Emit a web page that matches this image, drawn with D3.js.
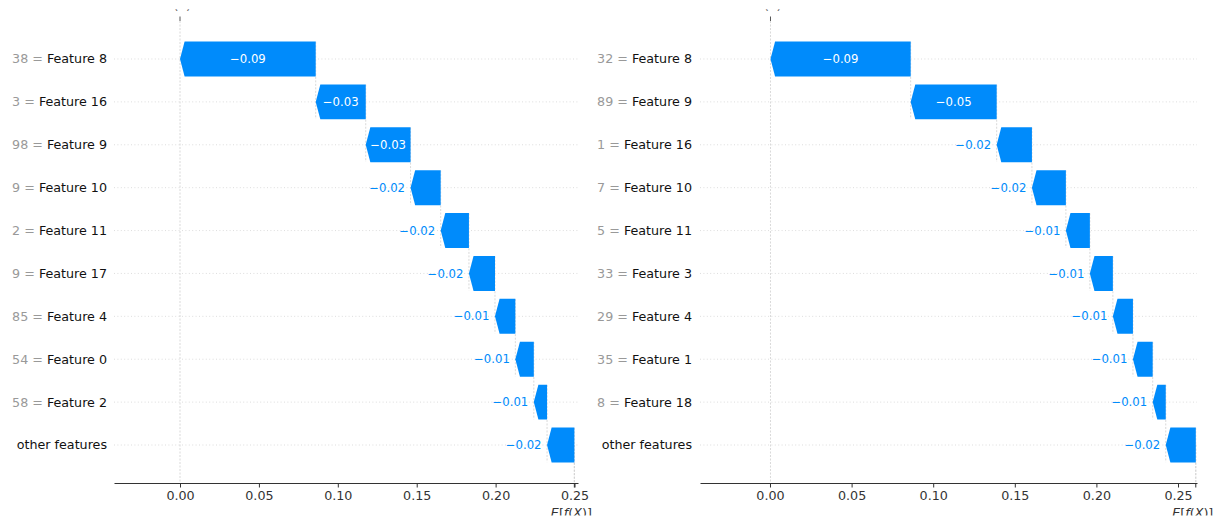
<!DOCTYPE html>
<html>
<head>
<meta charset="utf-8">
<script src="https://cdn.jsdelivr.net/npm/d3@7"></script>
<style>
  html, body { margin: 0; padding: 0; background: #fff; }
  svg { display: block; font-family: "DejaVu Sans", sans-serif; }
</style>
</head>
<body>
<svg id="chart" width="1220" height="523"></svg>
<script>
// ---- data: two SHAP waterfall explanations (rows listed top to bottom) ----
const leftFeatures = ["Feature 8", "Feature 16", "Feature 9", "Feature 10", "Feature 11",
                      "Feature 17", "Feature 4", "Feature 0", "Feature 2", "other features"];
const leftFeatureValues = ["38", "3", "98", "9", "2", "9", "85", "54", "58", null];
const leftShap = [-0.0860, -0.0317, -0.0284, -0.0191, -0.0179, -0.0165, -0.0129, -0.0117, -0.0084, -0.0173];
const leftBase = 0.2499;

const rightFeatures = ["Feature 8", "Feature 9", "Feature 16", "Feature 10", "Feature 11",
                       "Feature 3", "Feature 4", "Feature 1", "Feature 18", "other features"];
const rightFeatureValues = ["32", "89", "1", "7", "5", "33", "29", "35", "8", null];
const rightShap = [-0.0859, -0.0527, -0.0216, -0.0208, -0.0147, -0.0141, -0.0123, -0.0121, -0.0080, -0.0184];
const rightBase = 0.2609;

const xTicks = [0.00, 0.05, 0.10, 0.15, 0.20, 0.25];

// ---- styling ----
const BLUE = "#008bfb";
const FONT = "DejaVu Sans";
const LABEL_SIZE = 12.7;
const VALUE_SIZE = 11.7;
const AXIS_Y = 483;
const AXIS_TOP = 21;
const HEAD = 4.6;

const svg = d3.select("#chart");
const minus = s => s.replace("-", "\u2212");
const fmt = d3.format(".2f");

// top clip keeps only the lower edge of the f(x) caption, bottom clip trims E[f(X)]
const defs = svg.append("defs");
defs.append("clipPath").attr("id", "clipTop")
  .append("rect").attr("x", 0).attr("y", 9.3).attr("width", 1220).attr("height", 30);
defs.append("clipPath").attr("id", "clipBottom")
  .append("rect").attr("x", 0).attr("y", 490).attr("width", 1220).attr("height", 25.5);

function drawPanel(cfg) {
  const { features, featureValues, shap, base, range, domain, labelRight } = cfg;
  const n = features.length;
  const fx = base + d3.sum(shap);

  const x = d3.scaleLinear().domain(domain).range(range);
  const y = d3.scaleLinear().domain([-0.886, n - 1 + 0.886]).range([AXIS_TOP, AXIS_Y]);
  const rowH = y(1) - y(0);
  const barH = rowH * 0.815;

  const g = svg.append("g");

  // dotted row guides
  g.selectAll("line.row").data(features).join("line")
    .attr("class", "row")
    .attr("x1", range[0]).attr("x2", range[1])
    .attr("y1", (d, i) => y(i)).attr("y2", (d, i) => y(i))
    .attr("stroke", "#d4d4d4").attr("stroke-width", 0.8)
    .attr("stroke-dasharray", "1,2.4");

  // f(x) reference line through the full plot height
  g.append("line")
    .attr("x1", x(fx)).attr("x2", x(fx))
    .attr("y1", AXIS_TOP).attr("y2", AXIS_Y)
    .attr("stroke", "#cfcfcf").attr("stroke-width", 0.8).attr("stroke-dasharray", "2,1.5");

  // E[f(X)] reference line below the last row
  g.append("line")
    .attr("x1", x(base)).attr("x2", x(base))
    .attr("y1", y(n - 1)).attr("y2", AXIS_Y)
    .attr("stroke", "#cfcfcf").attr("stroke-width", 0.8).attr("stroke-dasharray", "2,1.5");

  // cumulative segments, starting from f(x) at the top row
  let loc = fx;
  const segs = shap.map((v, i) => {
    const start = loc;
    loc = loc - v;
    return { i, v, start, end: loc };
  });

  // connectors between consecutive bars
  g.selectAll("line.conn").data(segs).join("line")
    .attr("class", "conn")
    .attr("x1", d => x(d.end)).attr("x2", d => x(d.end))
    .attr("y1", d => y(d.i) - 0.4 * rowH)
    .attr("y2", d => Math.min(AXIS_Y, y(d.i + 1) + 0.4 * rowH))
    .attr("stroke", "#cfcfcf").attr("stroke-width", 0.8).attr("stroke-dasharray", "2,1.5");

  // arrow-shaped bars
  const arrow = d => {
    const cy = y(d.i), t = cy - barH / 2, b = cy + barH / 2;
    const lo = Math.min(x(d.start), x(d.end)), hi = Math.max(x(d.start), x(d.end));
    const h = Math.min(HEAD, hi - lo);
    if (d.v < 0) {
      return `M${lo},${cy}L${lo + h},${t}L${hi},${t}L${hi},${b}L${lo + h},${b}Z`;
    }
    return `M${hi},${cy}L${hi - h},${t}L${lo},${t}L${lo},${b}L${hi - h},${b}Z`;
  };
  g.selectAll("path.bar").data(segs).join("path")
    .attr("class", "bar")
    .attr("d", arrow)
    .attr("fill", BLUE);

  // value labels: inside when they fit, otherwise beside the arrow tip
  segs.forEach(d => {
    const lo = Math.min(x(d.start), x(d.end)), hi = Math.max(x(d.start), x(d.end));
    const txt = g.append("text")
      .attr("y", y(d.i)).attr("dy", "0.35em")
      .attr("font-family", FONT).attr("font-size", VALUE_SIZE)
      .text(minus(fmt(d.v)));
    const w = txt.node().getComputedTextLength();
    if (w < (hi - lo) - HEAD) {
      txt.attr("x", (lo + hi) / 2).attr("text-anchor", "middle").attr("fill", "#fff");
    } else {
      txt.attr("x", lo - 5.5).attr("text-anchor", "end").attr("fill", BLUE);
    }
  });

  // row labels: grey feature value, dark feature name
  features.forEach((name, i) => {
    const t = g.append("text")
      .attr("x", labelRight).attr("y", y(i)).attr("dy", "0.35em")
      .attr("text-anchor", "end")
      .attr("font-family", FONT).attr("font-size", LABEL_SIZE);
    if (featureValues[i] !== null) {
      t.append("tspan").attr("fill", "#999999").text(featureValues[i] + " = ");
    }
    t.append("tspan").attr("fill", "#111").text(name);
  });

  // bottom axis
  const axis = d3.axisBottom(x)
    .tickValues(xTicks)
    .tickFormat(fmt)
    .tickSize(4.5).tickPadding(3.5).tickSizeOuter(0);
  const ax = g.append("g").attr("transform", `translate(0,${AXIS_Y})`).call(axis);
  ax.attr("font-family", FONT).attr("font-size", LABEL_SIZE);
  ax.select(".domain").attr("stroke", "#333");
  ax.selectAll(".tick line").attr("stroke", "#333");
  ax.selectAll(".tick text").attr("fill", "#333");

  // E[f(X)] tick and caption
  g.append("line")
    .attr("x1", x(base)).attr("x2", x(base))
    .attr("y1", AXIS_Y).attr("y2", AXIS_Y + 4.5)
    .attr("stroke", "#333");
  const ef = g.append("text")
    .attr("clip-path", "url(#clipBottom)")
    .attr("x", x(base) - 3).attr("y", 517)
    .attr("text-anchor", "middle")
    .attr("font-family", FONT).attr("font-size", LABEL_SIZE).attr("fill", "#333");
  ef.append("tspan").attr("font-style", "italic").text("E");
  ef.append("tspan").text("[");
  ef.append("tspan").attr("font-style", "italic").text("f");
  ef.append("tspan").text("(");
  ef.append("tspan").attr("font-style", "italic").text("X");
  ef.append("tspan").text(")]");

  // f(x) tick and caption at the top
  g.append("line")
    .attr("x1", x(fx)).attr("x2", x(fx))
    .attr("y1", AXIS_TOP - 4.5).attr("y2", AXIS_TOP)
    .attr("stroke", "#555");
  const fxt = g.append("text")
    .attr("clip-path", "url(#clipTop)")
    .attr("x", x(fx)).attr("y", 9)
    .attr("text-anchor", "middle")
    .attr("font-family", FONT).attr("font-size", LABEL_SIZE).attr("fill", "#666");
  fxt.append("tspan").attr("font-style", "italic").text("f");
  fxt.append("tspan").text("(");
  fxt.append("tspan").attr("font-style", "italic").text("x");
  fxt.append("tspan").text(")");
}

drawPanel({
  features: leftFeatures, featureValues: leftFeatureValues, shap: leftShap, base: leftBase,
  range: [114, 578], domain: [-0.04183, 0.25221], labelRight: 107
});
drawPanel({
  features: rightFeatures, featureValues: rightFeatureValues, shap: rightShap, base: rightBase,
  range: [700, 1197], domain: [-0.04289, 0.26164], labelRight: 692
});
</script>
</body>
</html>
